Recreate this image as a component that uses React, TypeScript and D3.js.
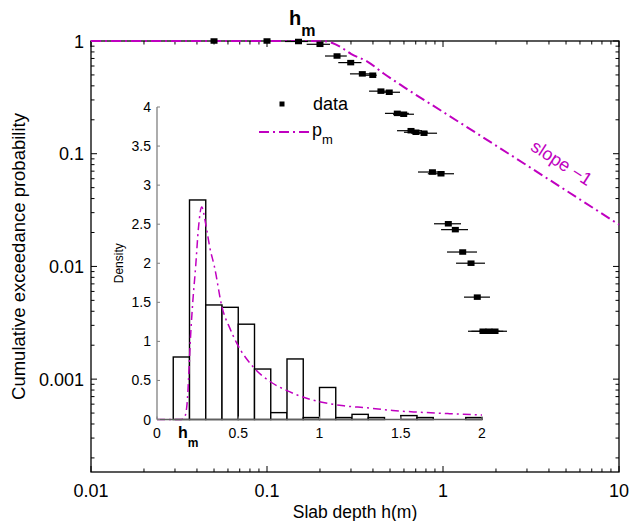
import React from "react";
import * as d3 from "d3";

// ---------- data ----------
const dataH = [0.05, 0.1, 0.151, 0.2, 0.25, 0.299, 0.348, 0.399, 0.444, 0.495, 0.55, 0.598, 0.658, 0.702, 0.78, 0.871, 0.974, 1.072, 1.175, 1.294, 1.443, 1.566, 1.687, 1.824, 1.975];
const dataP = [1, 1, 0.99, 0.935, 0.736, 0.643, 0.511, 0.497, 0.359, 0.351, 0.228, 0.224, 0.16, 0.155, 0.152, 0.0688, 0.0664, 0.0239, 0.0212, 0.01342, 0.01068, 0.00534, 0.00266, 0.00266, 0.00266];
const dataLo = [0.048, 0.097, 0.1265, 0.168, 0.2136, 0.254, 0.296, 0.34, 0.38, 0.43, 0.468, 0.52, 0.548, 0.6, 0.66, 0.721, 0.82, 0.889, 0.975, 1.054, 1.186, 1.316, 1.387, 1.45, 1.6];
const dataHi = [0.052, 0.104, 0.171, 0.228, 0.284, 0.344, 0.41, 0.42, 0.5, 0.57, 0.64, 0.684, 0.76, 0.82, 0.925, 1.02, 1.155, 1.266, 1.387, 1.56, 1.732, 1.849, 2.1, 2.2, 2.31];

const pmMainH = [0.01, 0.1, 0.18, 0.21, 0.235, 0.26, 0.3, 0.37, 0.46, 0.6, 1, 2, 4, 10];
const pmMainP = [1, 1, 1, 0.995, 0.96, 0.89, 0.77, 0.66, 0.515, 0.39, 0.235, 0.118, 0.059, 0.0235];

const binStart = [0.1, 0.2, 0.3, 0.4, 0.5, 0.6, 0.7, 0.8, 0.9, 1.0, 1.1, 1.2, 1.3, 1.4, 1.5, 1.6, 1.7, 1.8, 1.9];
const binDensity = [0.8, 2.81, 1.466, 1.436, 1.22, 0.646, 0.088, 0.775, 0.025, 0.41, 0.025, 0.066, 0.025, 0, 0.05, 0.025, 0, 0, 0.025];
const binWidth = 0.1;

const pmInsetH = [0, 0.1, 0.15, 0.17, 0.185, 0.195, 0.205, 0.22, 0.238, 0.255, 0.275, 0.3, 0.325, 0.353, 0.4, 0.45, 0.49, 0.6, 0.7, 0.8, 0.88, 1.0, 1.15, 1.29, 1.45, 1.6, 1.8, 2.0];
const pmInsetD = [0, 0, 0, 0.03, 0.2, 0.55, 1.0, 1.5, 1.96, 2.45, 2.72, 2.5, 2.2, 1.96, 1.44, 1.16, 0.98, 0.655, 0.48, 0.37, 0.3, 0.228, 0.175, 0.15, 0.115, 0.095, 0.075, 0.058];

const mainYTickLabels = ["1", "0.1", "0.01", "0.001"];
const mainYTickVals = [1, 0.1, 0.01, 0.001];
const mainXTickLabels = ["0.01", "0.1", "1", "10"];
const mainXTickVals = [0.01, 0.1, 1, 10];
const insetXTicks = [0, 0.5, 1, 1.5, 2];
const insetXLabels = ["0", "0.5", "1", "1.5", "2"];
const insetYTicks = [0, 0.5, 1, 1.5, 2, 2.5, 3, 3.5, 4];
const insetYLabels = ["0", "0.5", "1", "1.5", "2", "2.5", "3", "3.5", "4"];

// ---------- layout ----------
const W = 631;
const H = 521;
const FONT = "'Liberation Sans', Arial, Helvetica, sans-serif";
const MAG = "#c000c0";

export default function App() {
  const x = d3.scaleLog().domain([0.01, 10]).range([91, 619]);
  const y = d3.scaleLog().domain([1.5e-4, 1]).range([472, 41]);
  const ix = d3.scaleLinear().domain([0, 2]).range([157, 482]);
  const iy = d3.scaleLinear().domain([0, 4]).range([419.5, 107]);

  const [x0, x1] = x.range();
  const [yb, yt] = y.range();

  const isMajor = (v: number) => Math.abs(Math.log10(v) - Math.round(Math.log10(v))) < 1e-6;
  const xTicks = x.ticks();
  const yTicks = y.ticks();

  const mainLine = d3
    .line<number>()
    .x((_, i) => x(pmMainH[i]))
    .y((_, i) => y(pmMainP[i]))
    .curve(d3.curveMonotoneX)(pmMainH);

  const insetLine = d3
    .line<number>()
    .x((_, i) => ix(pmInsetH[i]))
    .y((_, i) => iy(pmInsetD[i]))
    .curve(d3.curveMonotoneX)(pmInsetH);

  const mw = 7;
  const mh = 5.5;

  return (
    <svg
      width={W}
      height={H}
      style={{ position: "absolute", left: 0, top: 0, background: "#fff", fontFamily: FONT }}
    >
      <rect x={0} y={0} width={W} height={H} fill="#fff" />

      {/* main ticks */}
      {xTicks.map((t, i) => {
        const len = isMajor(t) ? 6 : 3.5;
        const px = x(t);
        return (
          <g key={"xt" + i} stroke="#000" strokeWidth={1}>
            <line x1={px} x2={px} y1={yb} y2={yb - len} />
            <line x1={px} x2={px} y1={yt} y2={yt + len} />
          </g>
        );
      })}
      {yTicks.map((t, i) => {
        const len = isMajor(t) ? 6 : 3.5;
        const py = y(t);
        return (
          <g key={"yt" + i} stroke="#000" strokeWidth={1}>
            <line x1={x0} x2={x0 + len} y1={py} y2={py} />
            <line x1={x1} x2={x1 - len} y1={py} y2={py} />
          </g>
        );
      })}
      <rect x={x0} y={yt} width={x1 - x0} height={yb - yt} fill="none" stroke="#000" strokeWidth={1.3} />

      {mainXTickVals.map((v, i) => (
        <text key={"xl" + i} x={x(v)} y={497} fontSize={18} textAnchor="middle" fill="#000">
          {mainXTickLabels[i]}
        </text>
      ))}
      {mainYTickVals.map((v, i) => (
        <text key={"yl" + i} x={84} y={y(v) + 6.5} fontSize={18} textAnchor="end" fill="#000">
          {mainYTickLabels[i]}
        </text>
      ))}
      <text x={(x0 + x1) / 2} y={518} fontSize={17.5} textAnchor="middle" fill="#000">
        Slab depth h(m)
      </text>
      <text
        transform={`translate(25,${(yt + yb) / 2}) rotate(-90)`}
        fontSize={18.5}
        textAnchor="middle"
        fill="#000"
      >
        Cumulative exceedance probability
      </text>

      {/* main pm line */}
      <path d={mainLine || ""} fill="none" stroke={MAG} strokeWidth={2} strokeDasharray="10,4,2,4" />
      <text
        transform={`translate(561,164) rotate(32.7)`}
        fontSize={18}
        textAnchor="middle"
        dominantBaseline="middle"
        fill={MAG}
      >
        slope −1
      </text>

      {/* data with error bars */}
      {dataH.map((h, i) => (
        <g key={"d" + i}>
          <line x1={x(dataLo[i])} x2={x(dataHi[i])} y1={y(dataP[i])} y2={y(dataP[i])} stroke="#000" strokeWidth={1.2} />
          <rect x={x(h) - mw / 2} y={y(dataP[i]) - mh / 2} width={mw} height={mh} fill="#000" />
        </g>
      ))}

      {/* h_m label top */}
      <text x={289} y={25} fontSize={20} fontWeight="bold" fill="#000">
        h
        <tspan dy={11} fontSize={16}>m</tspan>
      </text>

      {/* legend */}
      <rect x={282 - 2.5} y={104 - 2.5} width={5} height={5} fill="#000" />
      <text x={313} y={110} fontSize={18} fill="#000">data</text>
      <line x1={259} x2={309} y1={132} y2={132} stroke={MAG} strokeWidth={2} strokeDasharray="10,4,2,4" />
      <text x={312} y={136} fontSize={18} fill="#000">
        p<tspan dy={8} fontSize={13}>m</tspan>
      </text>

      {/* inset histogram */}
      {binStart.map((b, i) => (
        <rect
          key={"b" + i}
          x={ix(b)}
          y={iy(binDensity[i])}
          width={ix(b + binWidth) - ix(b)}
          height={iy(0) - iy(binDensity[i])}
          fill="#fff"
          stroke="#000"
          strokeWidth={1.4}
        />
      ))}
      <path d={insetLine || ""} fill="none" stroke={MAG} strokeWidth={1.5} strokeDasharray="8,4,2,4" />

      {/* inset axes */}
      <line x1={ix(0)} x2={ix(0)} y1={iy(4)} y2={iy(0)} stroke="#808080" strokeWidth={1.3} />
      <line x1={ix(0)} x2={ix(2)} y1={iy(0)} y2={iy(0)} stroke="#606060" strokeWidth={1.3} />
      {insetYTicks.map((t, i) => (
        <g key={"iyt" + i}>
          <line x1={ix(0)} x2={ix(0) + 3} y1={iy(t)} y2={iy(t)} stroke="#808080" strokeWidth={1} />
          <text x={151} y={iy(t) + 5} fontSize={14} textAnchor="end" fill="#000">
            {insetYLabels[i]}
          </text>
        </g>
      ))}
      {insetXTicks.map((t, i) => (
        <g key={"ixt" + i}>
          <line x1={ix(t)} x2={ix(t)} y1={iy(0)} y2={iy(0) - 3} stroke="#808080" strokeWidth={1} />
          <text x={ix(t)} y={438} fontSize={14} textAnchor="middle" fill="#000">
            {insetXLabels[i]}
          </text>
        </g>
      ))}
      <text
        transform={`translate(123,${(iy(0) + iy(4)) / 2}) rotate(-90)`}
        fontSize={12}
        textAnchor="middle"
        fill="#000"
      >
        Density
      </text>
      <text x={178} y={438} fontSize={16} fontWeight="bold" fill="#000">
        h
        <tspan dy={9} fontSize={12}>m</tspan>
      </text>
    </svg>
  );
}
